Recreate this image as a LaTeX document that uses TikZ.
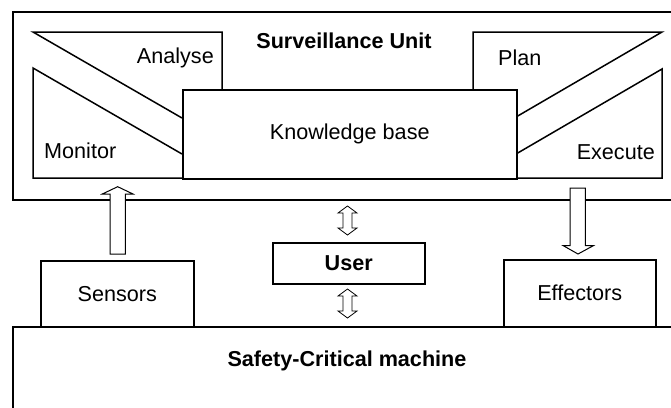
\documentclass[tikz,border=0pt]{standalone}
\usepackage{fontspec}
\setmainfont{Liberation Sans}
\begin{document}
\begin{tikzpicture}[x=1pt,y=-1pt,
  every node/.style={font=\fontsize{21.6}{26}\selectfont, inner sep=0pt},
  frame/.style={draw, line width=1.5pt},
  boxnode/.style={frame, fill=white, anchor=north west},
  edge/.style={line width=1.5pt, line join=miter},
  hollow/.style={draw, fill=white, line width=1pt, line join=miter},
  thinhollow/.style={draw, fill=white, line width=0.8pt, line join=miter},
  title/.style={font=\fontsize{21.6}{26}\selectfont\bfseries}]
\useasboundingbox (0,0) rectangle (671,407);
\clip (0,0) rectangle (671,407);
\fill[white] (0,0) rectangle (671,407);

% Surveillance unit frame (runs off the right edge)
\node[boxnode, minimum width=680pt, minimum height=188pt] (su) at (12,11) {};
\node[title] (sutitle) at (344,41) {Surveillance Unit};

% MAPE wedges
\draw[edge] (182,118) -- (33,32) -- (222,32) -- (222,89);
\draw[edge] (182,154) -- (33,68) -- (33,178) -- (182,178);
\draw[edge] (473,89) -- (473,32) -- (662,32) -- (516,117);
\draw[edge] (516,154) -- (662,69) -- (662,178) -- (516,178);

\node[anchor=east] (analyse) at (214,58) {Analyse};
\node[anchor=west] (monitor) at (44,151) {Monitor};
\node[anchor=west] (plan) at (498,58) {Plan};
\node[anchor=east] (execute) at (655,152) {Execute};

% Knowledge base
\node[boxnode, minimum width=334pt, minimum height=89pt] (kb) at (182,89) {};
\node (kbtext) at (kb.center) {Knowledge base};

% Machine (runs off the right and bottom edges)
\node[boxnode, minimum width=690pt, minimum height=120pt] (machine) at (12,326) {};
\node[title] (machinetext) at (347,361) {Safety-Critical machine};

% Sensors / effectors / user
\node[boxnode, minimum width=153pt, minimum height=66pt] (sensors) at (40,260) {};
\node (sensorstext) at (sensors.center) {Sensors};
\node[boxnode, minimum width=152pt, minimum height=67pt] (effectors) at (503,259) {};
\node (effectorstext) at (effectors.center) {Effectors};
\node[boxnode, minimum width=152pt, minimum height=41pt] (user) at (272,242) {};
\node[title] (usertext) at (user.center) {User};

% Sensors -> monitor
\draw[hollow] (110,254) -- (110,194) -- (102.3,194) -- (117.7,186.7)
  -- (133,194) -- (125.3,194) -- (125.3,254) -- cycle;
% Execute -> effectors
\draw[hollow] (570,188) -- (585.3,188) -- (585.3,245.7) -- (593.3,245.7)
  -- (578,254) -- (563.3,245.7) -- (570,245.7) -- cycle;

% User <-> knowledge base, user <-> machine
\draw[thinhollow] (347.5,206) -- (357,213) -- (352,213) -- (352,228) -- (357,228)
  -- (347.5,235) -- (338,228) -- (343,228) -- (343,213) -- (338,213) -- cycle;
\draw[thinhollow] (347.5,289) -- (357,296) -- (352,296) -- (352,311) -- (357,311)
  -- (347.5,318) -- (338,311) -- (343,311) -- (343,296) -- (338,296) -- cycle;
\end{tikzpicture}
\end{document}
